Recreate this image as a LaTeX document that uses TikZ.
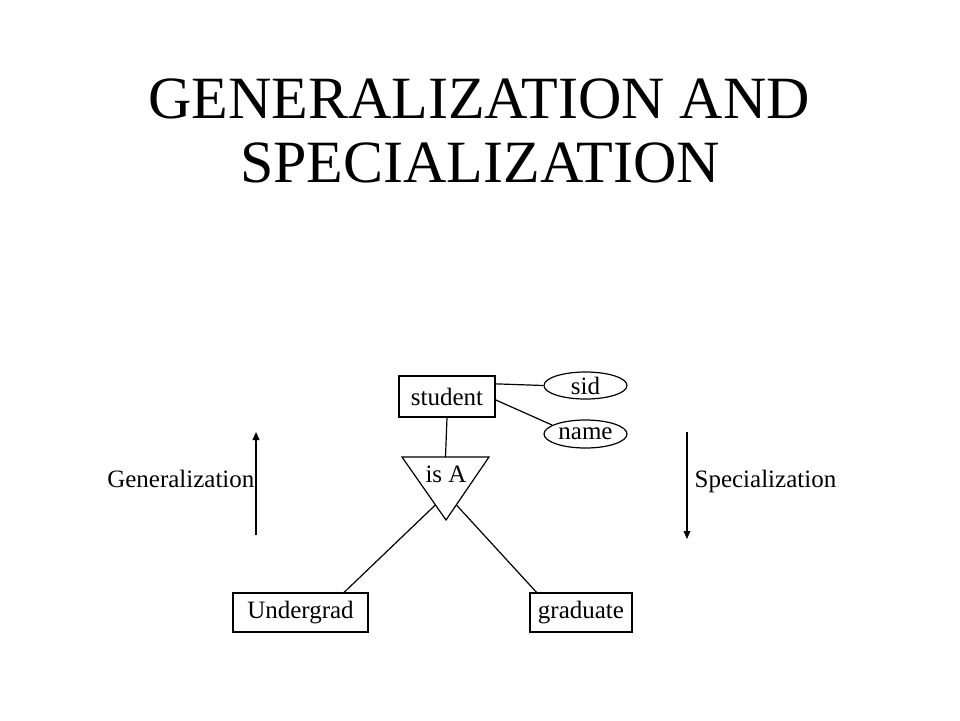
\documentclass[tikz,border=0pt]{standalone}
\usepackage{fontspec}
\setmainfont{Liberation Serif}
\usepackage{tikz}
\usetikzlibrary{shapes.geometric}
\usetikzlibrary{arrows.meta}
\usetikzlibrary{calc}

\begin{document}
\begin{tikzpicture}[x=0.5pt,y=-0.5pt,line width=0.6pt,
  entity/.style={draw,rectangle,inner sep=0pt,font=\fontsize{12.5}{14}\selectfont},
  attrib/.style={draw,ellipse,inner sep=0pt,minimum width=41.5pt,font=\fontsize{12.5}{14}\selectfont},
  sidelabel/.style={inner sep=0pt,font=\fontsize{12.5}{14}\selectfont},
  heading/.style={inner sep=0pt,anchor=base,font=\fontsize{30}{32}\selectfont},
  flow/.style={-{Triangle[length=4pt,width=3.4pt]}}]
\useasboundingbox (0,0) rectangle (960,720);
\node[heading] (T1) at (479,118) {GENERALIZATION AND};
\node[heading] (T2) at (480,182) {SPECIALIZATION};
\node[entity,minimum width=48pt,minimum height=20.5pt] (S) at (447,396.5) {student};
\node[attrib,minimum height=13.5pt] (sid) at (585.5,385.5) {sid};
\node[attrib,minimum height=14pt] (nm) at (585.5,434) {name};
\coordinate (tl) at (402,457);
\coordinate (tr) at (489,457);
\coordinate (tb) at (446,520);
\draw (tl) -- (tr) -- (tb) -- cycle;
\node[sidelabel] (isa) at (446,474) {is A};
\node[entity,minimum width=67.5pt,minimum height=19.5pt] (U) at (300.5,612.5) {Undergrad};
\node[entity,minimum width=51pt,minimum height=19.5pt] (G) at (581,612.5) {graduate};
\draw ($(S.north east)!0.2!(S.south east)$) -- (sid.west);
\draw ($(S.north east)!0.58!(S.south east)$) -- (nm.165);
\draw (S.south) -- ($(tl)!0.5!(tr)$);
\draw ($(tl)!0.76!(tb)$) -- ($(U.north west)!0.82!(U.north east)$);
\draw ($(tr)!0.76!(tb)$) -- ($(G.north west)!0.07!(G.north east)$);
% arrows at the sides
\coordinate (g1) at (256,535);
\coordinate (g2) at (256,432);
\coordinate (s1) at (687,432);
\coordinate (s2) at (687,539);
\draw[flow] (g1) -- (g2);
\draw[flow] (s1) -- (s2);
\node[sidelabel,anchor=base east] (gen) at (255,487) {Generalization};
\node[sidelabel,anchor=base west] (spec) at (694,487) {Specialization};
\end{tikzpicture}
\end{document}
